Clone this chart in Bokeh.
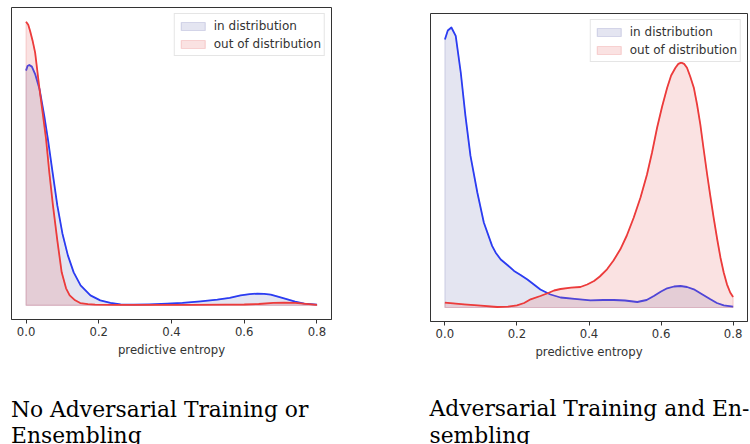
import numpy as np
from bokeh.plotting import figure
from bokeh.layouts import row, column
from bokeh.models import Range1d, FixedTicker, Legend, LegendItem, Spacer
from bokeh.core.properties import value
from bokeh.embed import file_html
from bokeh.resources import INLINE

# ---------------- data ----------------
ticks = [0.0, 0.2, 0.4, 0.6, 0.8]
tick_labels = ["0.0", "0.2", "0.4", "0.6", "0.8"]
x_label = "predictive entropy"
series_names = ["in distribution", "out of distribution"]
caption_left = ["No Adversarial Training or", "Ensembling"]
caption_right = ["Adversarial Training and En-", "sembling"]

# Panel 1: no adversarial training / ensembling (KDE of predictive entropy)
p1_in_x = [0, 0.004, 0.009, 0.016, 0.025, 0.037, 0.05, 0.06, 0.073, 0.086, 0.1, 0.115,
           0.131, 0.15, 0.177, 0.204, 0.232, 0.26, 0.296, 0.34, 0.388, 0.43, 0.48, 0.526,
           0.56, 0.59, 0.615, 0.636, 0.655, 0.673, 0.695, 0.719, 0.74, 0.765, 0.8]
p1_in_y = [11.75, 11.98, 12.03, 11.95, 11.58, 10.83, 9.5, 8.33, 6.65, 5.0, 3.6, 2.5,
           1.65, 1.0, 0.5, 0.25, 0.12, 0.05, 0.035, 0.05, 0.085, 0.125, 0.2, 0.285,
           0.375, 0.5, 0.565, 0.585, 0.575, 0.535, 0.425, 0.3, 0.19, 0.085, 0.035]
p1_out_x = [0, 0.006, 0.011, 0.018, 0.025, 0.037, 0.046, 0.055, 0.064, 0.074, 0.086, 0.098,
            0.11, 0.12, 0.135, 0.149, 0.17, 0.19, 0.25, 0.35, 0.45, 0.55, 0.6, 0.64,
            0.68, 0.71, 0.74, 0.77, 0.8]
p1_out_y = [14.2, 14.05, 13.75, 13.25, 12.65, 10.83, 9.6, 8.33, 6.65, 5.0, 3.25, 1.65,
            0.85, 0.5, 0.25, 0.115, 0.06, 0.035, 0.025, 0.02, 0.02, 0.03, 0.04, 0.065,
            0.125, 0.135, 0.12, 0.075, 0.02]

# Panel 2: adversarial training and ensembling
p2_in_x = [0, 0.008, 0.018, 0.03, 0.044, 0.057, 0.071, 0.09, 0.108, 0.131, 0.141, 0.155,
           0.175, 0.192, 0.21, 0.229, 0.247, 0.265, 0.293, 0.321, 0.36, 0.404, 0.44, 0.469,
           0.5, 0.534, 0.56, 0.58, 0.6, 0.617, 0.636, 0.654, 0.672, 0.691, 0.715, 0.737,
           0.755, 0.774, 0.8]
p2_in_y = [13.4, 13.85, 14.0, 13.58, 11.75, 9.58, 7.58, 5.75, 4.25, 3.08, 2.74, 2.4,
           2.1, 1.83, 1.63, 1.4, 1.15, 0.9, 0.65, 0.5, 0.43, 0.36, 0.375, 0.375,
           0.35, 0.275, 0.375, 0.575, 0.8, 0.96, 1.05, 1.075, 1.025, 0.91, 0.65, 0.41,
           0.225, 0.11, 0.04]
p2_out_x = [0, 0.053, 0.1, 0.145, 0.175, 0.2, 0.22, 0.238, 0.265, 0.287, 0.303, 0.321,
            0.35, 0.376, 0.395, 0.414, 0.43, 0.45, 0.468, 0.487, 0.505, 0.524, 0.543, 0.561,
            0.575, 0.589, 0.603, 0.617, 0.628, 0.64, 0.648, 0.656, 0.664, 0.672, 0.681, 0.691,
            0.7, 0.709, 0.718, 0.728, 0.737, 0.746, 0.756, 0.765, 0.774, 0.783, 0.792, 0.8]
p2_out_y = [0.24, 0.16, 0.09, 0.025, 0.04, 0.11, 0.225, 0.41, 0.575, 0.725, 0.85, 0.925,
            0.99, 1.025, 1.15, 1.325, 1.55, 1.91, 2.35, 2.91, 3.6, 4.49, 5.5, 6.65,
            7.75, 8.99, 10.05, 10.99, 11.6, 11.99, 12.18, 12.24, 12.18, 11.99, 11.55, 10.99,
            10.15, 9.16, 7.95, 6.65, 5.55, 4.49, 3.4, 2.49, 1.75, 1.16, 0.75, 0.525]

# ---------------- styles ----------------
BLUE_LINE = "#2b3cf2"
RED_LINE = "#ec3b3b"
BLUE_FILL = "#787db9"
RED_FILL = "#e66e6e"
SANS = "DejaVu Sans"
SERIF = "DejaVu Serif"
FS = "11.7px"


def panel(in_x, in_y, out_x, out_y, frame_w, frame_h, b_left, b_right, b_top, b_bottom):
    ymax = max(max(in_y), max(out_y))
    p = figure(frame_width=frame_w, frame_height=frame_h, title=None,
               min_border_left=b_left, min_border_right=b_right,
               min_border_top=b_top, min_border_bottom=b_bottom,
               x_range=Range1d(-0.04, 0.84), y_range=Range1d(-0.05 * ymax, 1.05 * ymax),
               output_backend="svg", toolbar_location=None, y_axis_location=None)
    p.grid.visible = False
    p.outline_line_color = "#333333"
    p.outline_line_width = 1
    p.background_fill_color = "white"
    p.border_fill_color = "white"

    xin = np.array(in_x)
    yin = np.array(in_y)
    xout = np.array(out_x)
    yout = np.array(out_y)

    r_in = p.patch(np.concatenate([xin, [xin[-1], xin[0]]]), np.concatenate([yin, [0, 0]]),
                   fill_color=BLUE_FILL, fill_alpha=0.2, line_color=BLUE_FILL, line_alpha=0.25,
                   line_width=1.2)
    p.line(xin, yin, line_color=BLUE_LINE, line_width=1.8, line_join="round")
    r_out = p.patch(np.concatenate([xout, [xout[-1], xout[0]]]), np.concatenate([yout, [0, 0]]),
                    fill_color=RED_FILL, fill_alpha=0.2, line_color=RED_FILL, line_alpha=0.25,
                    line_width=1.2)
    p.line(xout, yout, line_color=RED_LINE, line_width=1.8, line_join="round")

    ax = p.xaxis[0]
    ax.ticker = FixedTicker(ticks=ticks)
    ax.major_label_overrides = {t: l for t, l in zip(ticks, tick_labels)}
    ax.minor_tick_line_color = None
    ax.major_tick_in = 0
    ax.major_tick_out = 4
    ax.major_tick_line_color = "#333333"
    ax.axis_line_color = "#333333"
    ax.major_label_text_font = SANS
    ax.major_label_text_font_size = FS
    ax.major_label_text_color = "#333333"
    ax.major_label_standoff = 3
    ax.axis_label = x_label
    ax.axis_label_text_font = SANS
    ax.axis_label_text_font_size = FS
    ax.axis_label_text_font_style = "normal"
    ax.axis_label_text_color = "#333333"
    ax.axis_label_standoff = 4

    legend = Legend(items=[LegendItem(label=series_names[0], renderers=[r_in]),
                           LegendItem(label=series_names[1], renderers=[r_out])],
                    location="top_right", margin=6, padding=3, spacing=1,
                    glyph_width=30, glyph_height=10, label_standoff=6, label_height=17,
                    label_text_font=SANS, label_text_font_size="12px", label_text_color="#333333",
                    border_line_color="#cccccc", border_line_width=1,
                    background_fill_color="white", background_fill_alpha=0.8)
    p.add_layout(legend)
    return p


p1 = panel(p1_in_x, p1_in_y, p1_out_x, p1_out_y,
           frame_w=320, frame_h=312, b_left=11, b_right=69, b_top=7, b_bottom=51)
p2 = panel(p2_in_x, p2_in_y, p2_out_x, p2_out_y,
           frame_w=317, frame_h=308, b_left=30, b_right=3, b_top=7, b_bottom=49)

# caption strip below the two panels
cap = figure(frame_width=750, frame_height=74, title=None, min_border=0,
             x_range=Range1d(0, 750), y_range=Range1d(0, 74),
             output_backend="svg", toolbar_location=None,
             x_axis_location=None, y_axis_location=None)
cap.grid.visible = False
cap.outline_line_color = None
cap.text(x=[10.5, 10.5], y=[34.7, 9.5], text=caption_left,
         text_font=value(SERIF), text_font_size="21.8px", text_color="black",
         text_baseline="alphabetic", text_align="left")
cap.text(x=[429, 429], y=[35.7, 9.5], text=caption_right,
         text_font=value(SERIF), text_font_size="21.8px", text_color="black",
         text_baseline="alphabetic", text_align="left")

right_col = column(Spacer(width=350, height=6), p2, spacing=0)
layout = column(row(p1, right_col, spacing=0), cap, spacing=0)
open("out.html", "w").write(file_html(layout, INLINE))
